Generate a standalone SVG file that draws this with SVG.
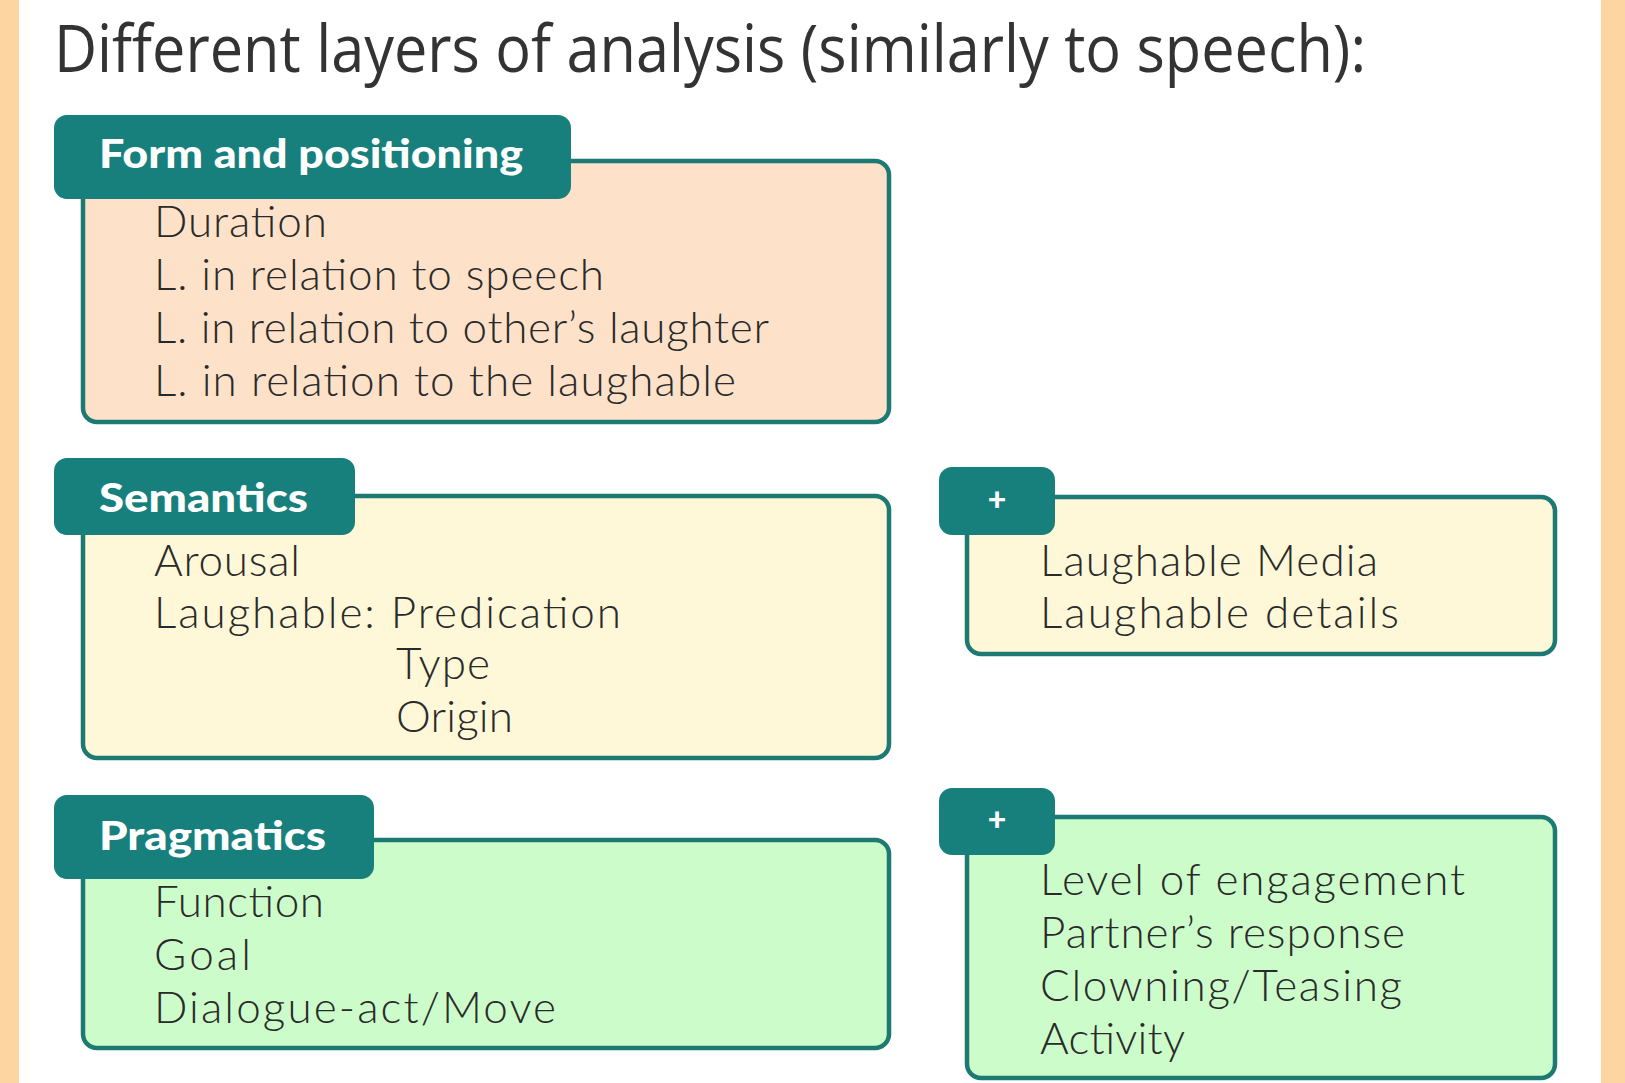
<svg xmlns="http://www.w3.org/2000/svg" width="1625" height="1083" viewBox="0 0 1625 1083">
<style>
.title{font-family:"Open Sans","Noto Sans",sans-serif;font-size:65px;fill:#333333}
.tab{fill:#17807d}
.hdr{font-family:Lato,"Noto Sans",sans-serif;font-weight:900;font-size:40px;fill:#ffffff}
.plus{font-family:Lato,"Noto Sans",sans-serif;font-weight:900;font-size:32px;fill:#ffffff}
.body{stroke:#1c7a72;stroke-width:4.5}
.item{font-family:Lato,"Noto Sans",sans-serif;font-weight:300;font-size:44px;fill:#2a2a2a}
</style>
<rect x="0" y="0" width="1625" height="1083" fill="#ffffff"/>
<rect x="0" y="0" width="19" height="1083" fill="#fdd5a0"/>
<rect x="1601" y="0" width="24" height="1083" fill="#fdd5a0"/>
<text class="title" x="54" y="72" textLength="1312" lengthAdjust="spacingAndGlyphs">Different layers of analysis (similarly to speech):</text>
<g id="connectors"></g>
<g id="form">
<rect class="body" x="83" y="161" width="806" height="261" rx="14" fill="#fde2c9"/>
<rect class="tab" x="54" y="115" width="517" height="84" rx="13"/>
<text class="hdr" x="99" y="168" textLength="424" lengthAdjust="spacingAndGlyphs">Form and positioning</text>
<text class="item" x="154" y="237" textLength="173">Duration</text>
<text class="item" x="154" y="290" textLength="450">L. in relation to speech</text>
<text class="item" x="154" y="343" textLength="615">L. in relation to other’s laughter</text>
<text class="item" x="154" y="396" textLength="582">L. in relation to the laughable</text>
</g>
<g id="semantics">
<rect class="body" x="83" y="496" width="806" height="262" rx="14" fill="#fef8d8"/>
<rect class="tab" x="54" y="458" width="301" height="77" rx="13"/>
<text class="hdr" x="99" y="512" textLength="209" lengthAdjust="spacingAndGlyphs">Semantics</text>
<text class="item" x="154" y="576" textLength="146">Arousal</text>
<text class="item" x="154" y="628" textLength="467">Laughable: Predication</text>
<text class="item" x="396" y="679" textLength="94">Type</text>
<text class="item" x="396" y="732" textLength="117">Origin</text>
</g>
<g id="semantics-plus">
<rect class="body" x="967" y="497" width="588" height="157" rx="14" fill="#fef8d8"/>
<rect class="tab" x="939" y="467" width="116" height="68" rx="13"/>
<text class="plus" x="997" y="511" text-anchor="middle">+</text>
<text class="item" x="1040" y="576" textLength="338">Laughable Media</text>
<text class="item" x="1040" y="628" textLength="359">Laughable details</text>
</g>
<g id="pragmatics">
<rect class="body" x="83" y="840" width="806" height="208" rx="14" fill="#cdfccb"/>
<rect class="tab" x="54" y="795" width="320" height="84" rx="13"/>
<text class="hdr" x="99" y="850" textLength="227" lengthAdjust="spacingAndGlyphs">Pragmatics</text>
<text class="item" x="154" y="917" textLength="170">Function</text>
<text class="item" x="154" y="970" textLength="97">Goal</text>
<text class="item" x="154" y="1023" textLength="402">Dialogue-act/Move</text>
</g>
<g id="pragmatics-plus">
<rect class="body" x="967" y="817" width="588" height="261" rx="14" fill="#cdfccb"/>
<rect class="tab" x="939" y="788" width="116" height="67" rx="13"/>
<text class="plus" x="997" y="831" text-anchor="middle">+</text>
<text class="item" x="1040" y="895" textLength="425">Level of engagement</text>
<text class="item" x="1040" y="948" textLength="365">Partner’s response</text>
<text class="item" x="1040" y="1001" textLength="362">Clowning/Teasing</text>
<text class="item" x="1040" y="1054" textLength="145">Activity</text>
</g>
</svg>
